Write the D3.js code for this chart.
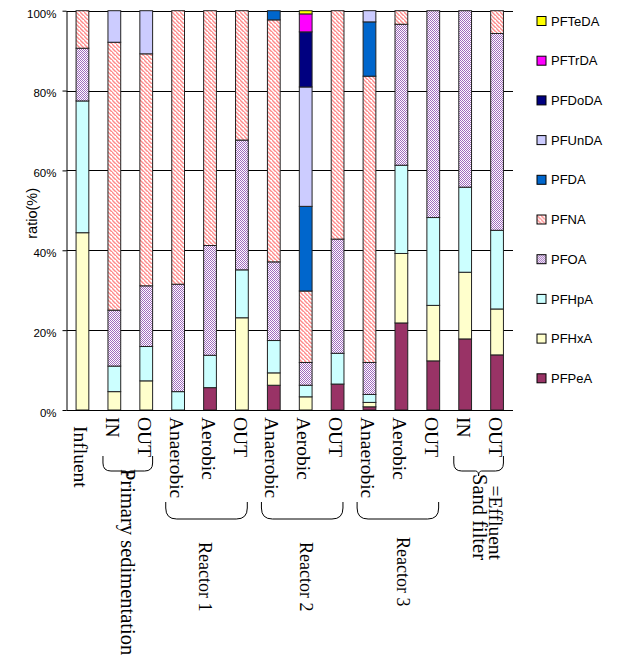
<!DOCTYPE html>
<html>
<head>
<meta charset="utf-8">
<script src="https://cdn.jsdelivr.net/npm/d3@7"></script>
<style>
  html, body { margin: 0; padding: 0; background: #fff; }
  svg { display: block; }
</style>
</head>
<body>
<svg id="chart" width="618" height="663"></svg>
<script>
// Sampling points along the treatment train
const categories = ["Influent", "IN", "OUT", "Anaerobic", "Aerobic", "OUT",
  "Anaerobic", "Aerobic", "OUT", "Anaerobic", "Aerobic", "OUT", "IN", "OUT"];

// Composition ratio (%) of each PFCA, stacked bottom to top
const PFPeA  = [0, 0, 0, 0, 5.6, 0, 6.2, 0, 6.5, 0.8, 21.8, 12.3, 17.8, 13.8];
const PFHxA  = [44.4, 4.6, 7.3, 0, 0, 23.1, 3.1, 3.3, 0, 1.1, 17.4, 13.9, 16.7, 11.5];
const PFHpA  = [33.0, 6.4, 8.6, 4.6, 8.1, 12.0, 8.1, 2.9, 7.7, 2.0, 22.1, 22.0, 21.3, 19.7];
const PFOA   = [13.2, 14.0, 15.2, 26.9, 27.5, 32.5, 19.7, 5.7, 28.6, 8.0, 35.3, 51.8, 44.2, 49.3];
const PFNA   = [9.4, 67.1, 58.1, 68.5, 58.8, 32.4, 60.6, 17.9, 57.2, 71.7, 3.4, 0, 0, 5.7];
const PFDA   = [0, 0, 0, 0, 0, 0, 2.3, 21.2, 0, 13.6, 0, 0, 0, 0];
const PFUnDA = [0, 7.9, 10.8, 0, 0, 0, 0, 29.9, 0, 2.8, 0, 0, 0, 0];
const PFDoDA = [0, 0, 0, 0, 0, 0, 0, 13.8, 0, 0, 0, 0, 0, 0];
const PFTrDA = [0, 0, 0, 0, 0, 0, 0, 4.5, 0, 0, 0, 0, 0, 0];
const PFTeDA = [0, 0, 0, 0, 0, 0, 0, 0.8, 0, 0, 0, 0, 0, 0];

const seriesNames = ["PFPeA", "PFHxA", "PFHpA", "PFOA", "PFNA", "PFDA", "PFUnDA", "PFDoDA", "PFTrDA", "PFTeDA"];
const seriesValues = [PFPeA, PFHxA, PFHpA, PFOA, PFNA, PFDA, PFUnDA, PFDoDA, PFTrDA, PFTeDA];

const yTicks = [0, 20, 40, 60, 80, 100];

// Process groups drawn with brackets under the axis
const groups = [
  { name: "Primary sedimentation", from: 1, to: 2 },
  { name: "Reactor 1", from: 3, to: 5 },
  { name: "Reactor 2", from: 6, to: 8 },
  { name: "Reactor 3", from: 9, to: 11 },
  { name: "Sand filter", from: 12, to: 13 }
];

const svg = d3.select("#chart");
const plot = { left: 66.5, right: 513, top: 10.7, bottom: 410 };

const x = d3.scaleBand()
  .domain(d3.range(categories.length))
  .range([plot.left, plot.right])
  .paddingInner(0.6)
  .paddingOuter(0.3);

const y = d3.scaleLinear().domain([0, 100]).range([plot.bottom, plot.top]);

// Fill patterns
const defs = svg.append("defs");
const stripe = defs.append("pattern")
  .attr("id", "pat-pfna").attr("patternUnits", "userSpaceOnUse")
  .attr("width", 4).attr("height", 4);
stripe.append("rect").attr("width", 4).attr("height", 4).attr("fill", "#fff");
stripe.append("path")
  .attr("d", "M-1,-1 L5,5 M-3,1 L1,5 M3,-3 L7,1")
  .attr("stroke", "#ff8a8a").attr("stroke-width", 1.4);

const check = defs.append("pattern")
  .attr("id", "pat-pfoa").attr("patternUnits", "userSpaceOnUse")
  .attr("width", 2).attr("height", 2);
check.append("rect").attr("width", 2).attr("height", 2).attr("fill", "#fff");
check.append("rect").attr("x", 0).attr("y", 0).attr("width", 1).attr("height", 1).attr("fill", "#a06cbe");
check.append("rect").attr("x", 1).attr("y", 1).attr("width", 1).attr("height", 1).attr("fill", "#a06cbe");

const fills = {
  PFPeA: "#993366",
  PFHxA: "#ffffcc",
  PFHpA: "#ccffff",
  PFOA: "url(#pat-pfoa)",
  PFNA: "url(#pat-pfna)",
  PFDA: "#0066cc",
  PFUnDA: "#ccccff",
  PFDoDA: "#000080",
  PFTrDA: "#ff00ff",
  PFTeDA: "#ffff00"
};

// Gridlines
svg.append("g").selectAll("line")
  .data(yTicks.filter(d => d > 0))
  .join("line")
  .attr("x1", plot.left).attr("x2", plot.right)
  .attr("y1", d => Math.round(y(d)) + 0.5).attr("y2", d => Math.round(y(d)) + 0.5)
  .attr("stroke", "#000").attr("stroke-width", 1);

// Stacked bars
const rows = categories.map((c, i) => {
  const r = { i };
  seriesNames.forEach((s, k) => { r[s] = seriesValues[k][i]; });
  return r;
});
const stacked = d3.stack().keys(seriesNames)(rows);

svg.append("g").selectAll("g")
  .data(stacked)
  .join("g")
  .attr("fill", d => fills[d.key])
  .selectAll("rect")
  .data(d => d.filter(p => p[1] - p[0] > 0))
  .join("rect")
  .attr("x", p => x(p.data.i))
  .attr("width", x.bandwidth())
  .attr("y", p => y(p[1]))
  .attr("height", p => y(p[0]) - y(p[1]))
  .attr("stroke", "#222").attr("stroke-width", 1);

// Axes
const yAxis = svg.append("g")
  .attr("transform", `translate(${plot.left},0)`)
  .call(d3.axisLeft(y).tickValues(yTicks).tickFormat(d => d + "%").tickSize(4).tickSizeOuter(0));
yAxis.select(".domain").attr("stroke", "#000");
yAxis.selectAll(".tick line").attr("stroke", "#000");
yAxis.selectAll(".tick text")
  .attr("font-family", "'Liberation Sans', Arial, sans-serif")
  .attr("font-size", 11.5).attr("fill", "#000")
  .attr("x", -10).attr("dy", "0.55em");

svg.append("line")
  .attr("x1", plot.left).attr("x2", plot.right)
  .attr("y1", plot.bottom + 0.5).attr("y2", plot.bottom + 0.5)
  .attr("stroke", "#000");

svg.append("text")
  .attr("transform", `translate(37,${(plot.top + plot.bottom) / 2 + 3}) rotate(-90)`)
  .attr("text-anchor", "middle")
  .attr("font-family", "'Liberation Sans', Arial, sans-serif")
  .attr("font-size", 14.5)
  .text("ratio(%)");

// Category labels, rotated to read downward
const serif = "'Liberation Serif', 'Times New Roman', serif";
const cx = i => x(i) + x.bandwidth() / 2;
svg.append("g").selectAll("text")
  .data(categories)
  .join("text")
  .attr("transform", (d, i) => `translate(${cx(i) - 1.5},${i === 0 ? 426 : 417}) rotate(90)`)
  .attr("dy", "0.35em")
  .attr("font-family", serif).attr("font-size", 19.5)
  .text(d => d);

// Group brackets
function bracket(x0, x1, yTop, yBot, r, cusp) {
  const m = (x0 + x1) / 2;
  let p = `M${x0},${yTop} L${x0},${yBot - r} Q${x0},${yBot} ${x0 + r},${yBot}`;
  if (cusp) {
    p += ` L${m - 3},${yBot} Q${m},${yBot} ${m},${yBot + 5} Q${m},${yBot} ${m + 3},${yBot}`;
  }
  p += ` L${x1 - r},${yBot} Q${x1},${yBot} ${x1},${yBot - r} L${x1},${yTop}`;
  return p;
}

groups.forEach(g => {
  const small = g.to - g.from === 1;
  const x0 = x(g.from) - (small ? 5 : 6);
  const x1 = x(g.to) + x.bandwidth() + (small ? 0 : -1);
  const path = small
    ? bracket(x0, x1, 456, 471, 8, true)
    : bracket(x0, x1, 502, 519, 11, false);
  svg.append("path").attr("d", path)
    .attr("fill", "none").attr("stroke", "#000").attr("stroke-width", 1);
});

function vText(xc, y0, str, anchor, size) {
  svg.append("text")
    .attr("transform", `translate(${xc},${y0}) rotate(90)`)
    .attr("dy", "0.35em")
    .attr("text-anchor", anchor || "start")
    .attr("font-family", serif).attr("font-size", size || 19.5)
    .text(str);
}

const mid = g => (cx(g.from) + cx(g.to)) / 2;
vText(mid(groups[0]) - 2, 469, groups[0].name, "start", 20.5);
vText(mid(groups[1]) - 5, 542, groups[1].name, "start", 18);
vText(mid(groups[2]) + 1, 542, groups[2].name, "start", 18);
vText(mid(groups[3]) + 2, 537, groups[3].name, "start", 18);
vText(mid(groups[4]) - 1, 560, groups[4].name, "end", 20.5);
vText(mid(groups[4]) + 14.5, 560, "=Effluent", "end", 19.5);

// Legend, top entry is the last series
const legend = svg.append("g").selectAll("g")
  .data(seriesNames.slice().reverse())
  .join("g")
  .attr("transform", (d, i) => `translate(537,${21 + i * 39.7})`);
legend.append("rect")
  .attr("x", 0).attr("y", -4.5).attr("width", 9).attr("height", 9)
  .attr("fill", d => fills[d]).attr("stroke", "#000").attr("stroke-width", 1);
legend.append("text")
  .attr("x", 14).attr("dy", "0.36em")
  .attr("font-family", "'Liberation Sans', Arial, sans-serif")
  .attr("font-size", 13)
  .text(d => d);
</script>
</body>
</html>
